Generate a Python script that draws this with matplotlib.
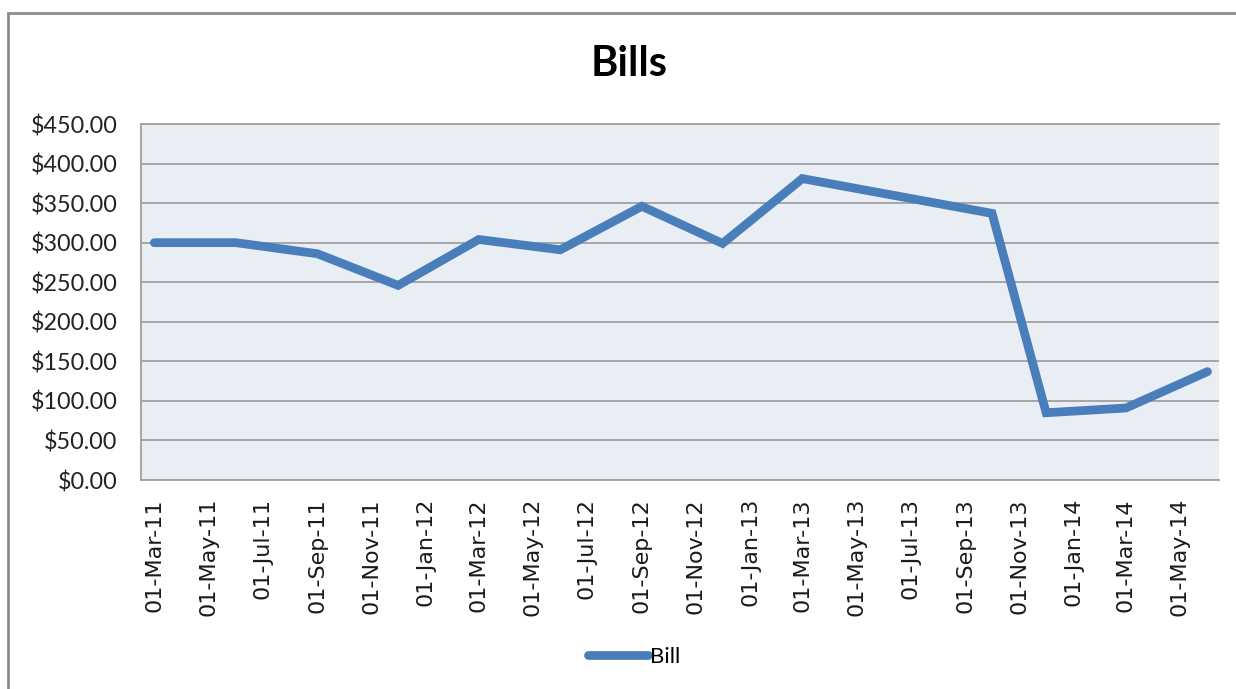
import datetime as dt
import matplotlib
matplotlib.use('Agg')
import matplotlib.pyplot as plt
import matplotlib.dates as mdates
import matplotlib.ticker as mticker
from matplotlib.patches import Rectangle

# bill amounts
dates = [dt.date(2011, 3, 1), dt.date(2011, 6, 1), dt.date(2011, 9, 1), dt.date(2011, 12, 1),
         dt.date(2012, 3, 1), dt.date(2012, 6, 1), dt.date(2012, 9, 1), dt.date(2012, 12, 1),
         dt.date(2013, 3, 1), dt.date(2013, 10, 1), dt.date(2013, 12, 1),
         dt.date(2014, 3, 1), dt.date(2014, 6, 1)]
bills = [300, 300, 286, 246, 304, 291, 346, 299, 381, 337, 85, 91, 137]

series_name = 'Bill'
title = 'Bills'

blue = '#4A7EBB'

fig = plt.figure(figsize=(12.36, 6.89), dpi=100)
ax = fig.add_axes([141/1236, 1 - 480/689, (1219 - 141)/1236, (480 - 124)/689])
ax.set_facecolor('#E9EDF4')

ax.plot(dates, bills, color=blue, lw=6.3, solid_capstyle='round',
        solid_joinstyle='miter', label=series_name, zorder=3)

ax.set_ylim(0, 450)
ax.yaxis.set_major_locator(mticker.MultipleLocator(50))
ax.yaxis.set_major_formatter(mticker.StrMethodFormatter('${x:,.2f}'))
ax.grid(axis='y', color='#A0A0A0', lw=1.3)
ax.set_axisbelow(True)

ax.set_xlim(dt.date(2011, 2, 14), dt.date(2014, 6, 14))
ax.xaxis.set_major_locator(mdates.MonthLocator(bymonth=[1, 3, 5, 7, 9, 11]))
ax.xaxis.set_major_formatter(mdates.DateFormatter('%d-%b-%y'))

ax.tick_params(axis='y', length=0, pad=17, labelsize=16.8, labelfontfamily='Lato',
               labelcolor='#222222')
ax.tick_params(axis='x', length=0, pad=13, labelsize=16, labelfontfamily='DejaVu Sans',
               labelcolor='#1a1a1a', labelrotation=90)

for side in ['left', 'bottom', 'top']:
    ax.spines[side].set_color('#A0A0A0')
    ax.spines[side].set_linewidth(1.3)
ax.spines['right'].set_visible(False)

fig.text(629/1236, 1 - 64/689, title, ha='center', va='center',
         family='Lato', fontweight='bold', fontsize=30)

fig.legend(loc='center', bbox_to_anchor=(634/1236, 1 - 657/689), frameon=False,
           prop={'family': 'Lato', 'size': 16}, handlelength=2.7, handletextpad=0.12)

# outer chart frame
fig.patches.append(Rectangle((8/1236, -0.1), 1.2, 1 - 13/689 + 0.1, transform=fig.transFigure,
                             fill=False, edgecolor='#8C8C8C', lw=2))

fig.savefig('out.png', dpi=100)
